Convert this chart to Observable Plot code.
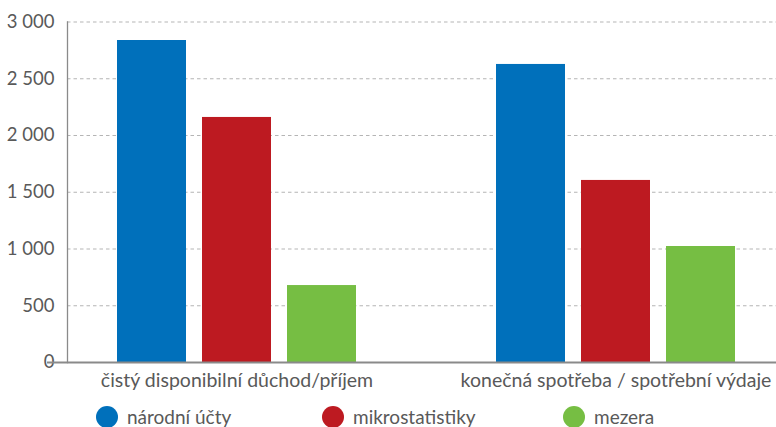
<!DOCTYPE html>
<html>
<head>
<meta charset="utf-8">
<script src="https://cdn.jsdelivr.net/npm/d3@7"></script>
<script src="https://cdn.jsdelivr.net/npm/@observablehq/plot@0.6"></script>
<style>
  html, body { margin: 0; padding: 0; background: #fff; }
  #wrap { position: relative; width: 776px; height: 427px; overflow: hidden; font-family: Lato, "Open Sans", sans-serif; }
  #back, #front { position: absolute; left: 0; top: 0; }
  #legend { position: absolute; left: 0; top: 405px; width: 776px; height: 26px; }
  .item { position: absolute; top: 0; display: flex; align-items: center; font-size: 19px; color: #595959; }
  .sw { width: 22px; height: 22px; border-radius: 50%; margin-right: 9px; }
</style>
</head>
<body>
<div id="wrap"><div id="back"></div><div id="front"></div><div id="legend"></div></div>
<script>
const groups = ["čistý disponibilní důchod/příjem", "konečná spotřeba / spotřební výdaje"];
const series = ["národní účty", "mikrostatistiky", "mezera"];
const narodniUcty = [2837, 2626];
const mikrostatistiky = [2159, 1604];
const mezera = [678, 1022];
const colors = ["#0070bb", "#bd1a21", "#76be43"];
const yTicks = [0, 500, 1000, 1500, 2000, 2500, 3000];

const values = [narodniUcty, mikrostatistiky, mezera];
const data = [];
groups.forEach((g, gi) => series.forEach((s, si) => data.push({group: g, series: s, value: values[si][gi]})));

const fmt = d3.formatLocale({thousands: "\u00a0", grouping: [3], decimal: ","}).format(",d");

const common = {
  width: 776,
  height: 400,
  marginLeft: 67,
  marginRight: 0,
  marginTop: 21.5,
  marginBottom: 38,
  style: {fontFamily: "Lato, 'Open Sans', sans-serif", fontSize: "18px", color: "#595959", background: "transparent"},
  y: {domain: [0, 3000], axis: null}
};

// background layer: grid, y axis, tick labels
const back = Plot.plot({
  ...common,
  marks: [
    Plot.ruleY(yTicks.filter(d => d > 0), {stroke: "#b5b5b5", strokeWidth: 1.2, strokeDasharray: "3.5,3"}),
    Plot.frame({anchor: "left", stroke: "#8a8a8a", strokeWidth: 1.3}),
    Plot.text(yTicks, {y: d => d, text: d => fmt(d), frameAnchor: "left", textAnchor: "end", dx: -13, fill: "#595959", fontSize: 18.5})
  ]
});
document.getElementById("back").appendChild(back);

// front layer: grouped bars
const front = Plot.plot({
  ...common,
  fx: {domain: groups, range: [47, 805], padding: 0, label: null},
  x: {domain: series, paddingInner: 0.19, paddingOuter: 0.81, axis: null},
  color: {domain: series, range: colors},
  marks: [
    Plot.barY(data, {fx: "group", x: "series", y: "value", fill: "series"}),
    Plot.ruleY([0], {stroke: "#8a8a8a", strokeWidth: 2}),
    Plot.axisFx({anchor: "bottom", tickSize: 0, tickPadding: 11, label: null, fontSize: 19.5, fill: "#595959"})
  ]
});
document.getElementById("front").appendChild(front);

const lefts = [96, 322, 563];
const legend = document.getElementById("legend");
series.forEach((s, i) => {
  const it = document.createElement("div");
  it.className = "item";
  it.style.left = lefts[i] + "px";
  const sw = document.createElement("span");
  sw.className = "sw";
  sw.style.background = colors[i];
  const t = document.createElement("span");
  t.textContent = s;
  it.appendChild(sw); it.appendChild(t);
  legend.appendChild(it);
});
</script>
</body>
</html>
